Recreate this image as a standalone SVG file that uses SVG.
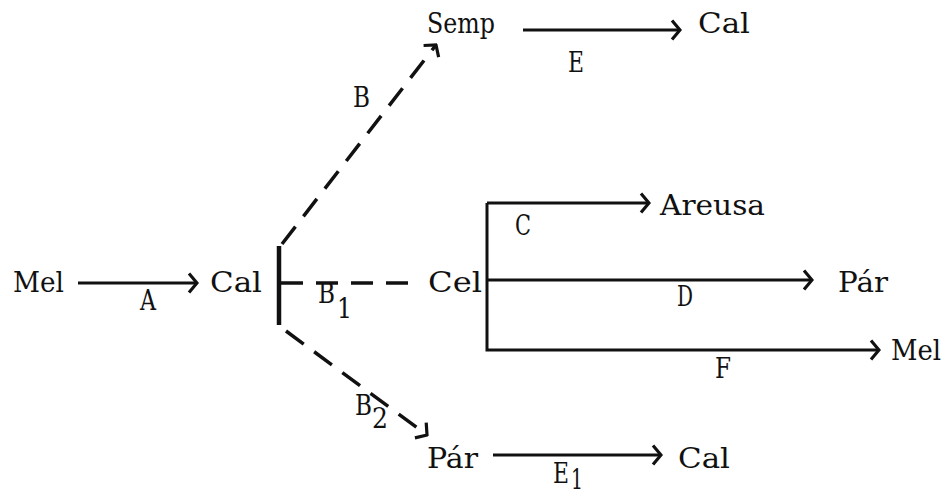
<svg xmlns="http://www.w3.org/2000/svg" width="945" height="498" viewBox="0 0 945 498">
<style>
text{font-family:"DejaVu Serif","Liberation Serif",serif;font-size:27px;fill:#111}
.ln{stroke:#111;stroke-width:3;fill:none}
.ds{stroke:#111;stroke-width:3.5;fill:none;stroke-dasharray:22 13}
.bar{stroke:#111;stroke-width:4.5;fill:none}
</style>
<defs>
<marker id="ah" viewBox="0 0 12 22" refX="10" refY="11" markerWidth="12" markerHeight="22" markerUnits="userSpaceOnUse" orient="auto">
<path d="M2,1.5 L10,11 L2,20.5" stroke="#111" stroke-width="3.2" fill="none"/>
</marker>
</defs>
<rect width="945" height="498" fill="#fff"/>
<g id="connectors">
<line class="ln" x1="78" y1="283" x2="197" y2="283" marker-end="url(#ah)"/>
<line class="bar" x1="279" y1="246" x2="279" y2="325"/>
<line class="ds" x1="281" y1="283" x2="412" y2="283"/>
<line class="ds" x1="282" y1="244" x2="436" y2="45" marker-end="url(#ah)"/>
<line class="ds" x1="286" y1="331" x2="427" y2="435" marker-end="url(#ah)"/>
<line class="ln" x1="523" y1="30" x2="680" y2="30" marker-end="url(#ah)"/>
<line class="ln" x1="493" y1="455" x2="661" y2="455" marker-end="url(#ah)"/>
<polyline class="ln" points="487,203 487,350 879,350" marker-end="url(#ah)"/>
<line class="ln" x1="487" y1="203" x2="649" y2="203" marker-end="url(#ah)"/>
<line class="ln" x1="487" y1="280" x2="812" y2="280" marker-end="url(#ah)"/>
</g>
<g id="n-mel"><text x="13" y="292" textLength="51" lengthAdjust="spacingAndGlyphs">Mel</text></g>
<g id="n-cal"><text x="210" y="292" textLength="52" lengthAdjust="spacingAndGlyphs">Cal</text></g>
<g id="n-cel"><text x="428" y="292" textLength="54" lengthAdjust="spacingAndGlyphs">Cel</text></g>
<g id="n-semp"><text x="427" y="33" textLength="68" lengthAdjust="spacingAndGlyphs">Semp</text></g>
<g id="n-cal-top"><text x="698" y="33" textLength="52" lengthAdjust="spacingAndGlyphs">Cal</text></g>
<g id="n-areusa"><text x="660" y="215" textLength="105" lengthAdjust="spacingAndGlyphs">Areusa</text></g>
<g id="n-par-right"><text x="838" y="292" textLength="50" lengthAdjust="spacingAndGlyphs">Pár</text></g>
<g id="n-mel-right"><text x="891" y="360" textLength="50" lengthAdjust="spacingAndGlyphs">Mel</text></g>
<g id="n-par-bottom"><text x="427" y="468" textLength="51" lengthAdjust="spacingAndGlyphs">Pár</text></g>
<g id="n-cal-bottom"><text x="678" y="468" textLength="52" lengthAdjust="spacingAndGlyphs">Cal</text></g>
<g id="labels">
<text x="140" y="310" textLength="16" lengthAdjust="spacingAndGlyphs">A</text>
<text x="353" y="107" textLength="17" lengthAdjust="spacingAndGlyphs">B</text>
<text x="318" y="303" textLength="17" lengthAdjust="spacingAndGlyphs">B</text>
<text x="337" y="318" textLength="15" lengthAdjust="spacingAndGlyphs">1</text>
<text x="355" y="415" textLength="17" lengthAdjust="spacingAndGlyphs">B</text>
<text x="372" y="428" textLength="16" lengthAdjust="spacingAndGlyphs">2</text>
<text x="568" y="72" textLength="16" lengthAdjust="spacingAndGlyphs">E</text>
<text x="553" y="483" textLength="16" lengthAdjust="spacingAndGlyphs">E</text>
<text x="571" y="489" font-size="20" textLength="12" lengthAdjust="spacingAndGlyphs">1</text>
<text x="515" y="235" textLength="16" lengthAdjust="spacingAndGlyphs">C</text>
<text x="677" y="306" textLength="16" lengthAdjust="spacingAndGlyphs">D</text>
<text x="715" y="378" textLength="16" lengthAdjust="spacingAndGlyphs">F</text>
</g>
</svg>
